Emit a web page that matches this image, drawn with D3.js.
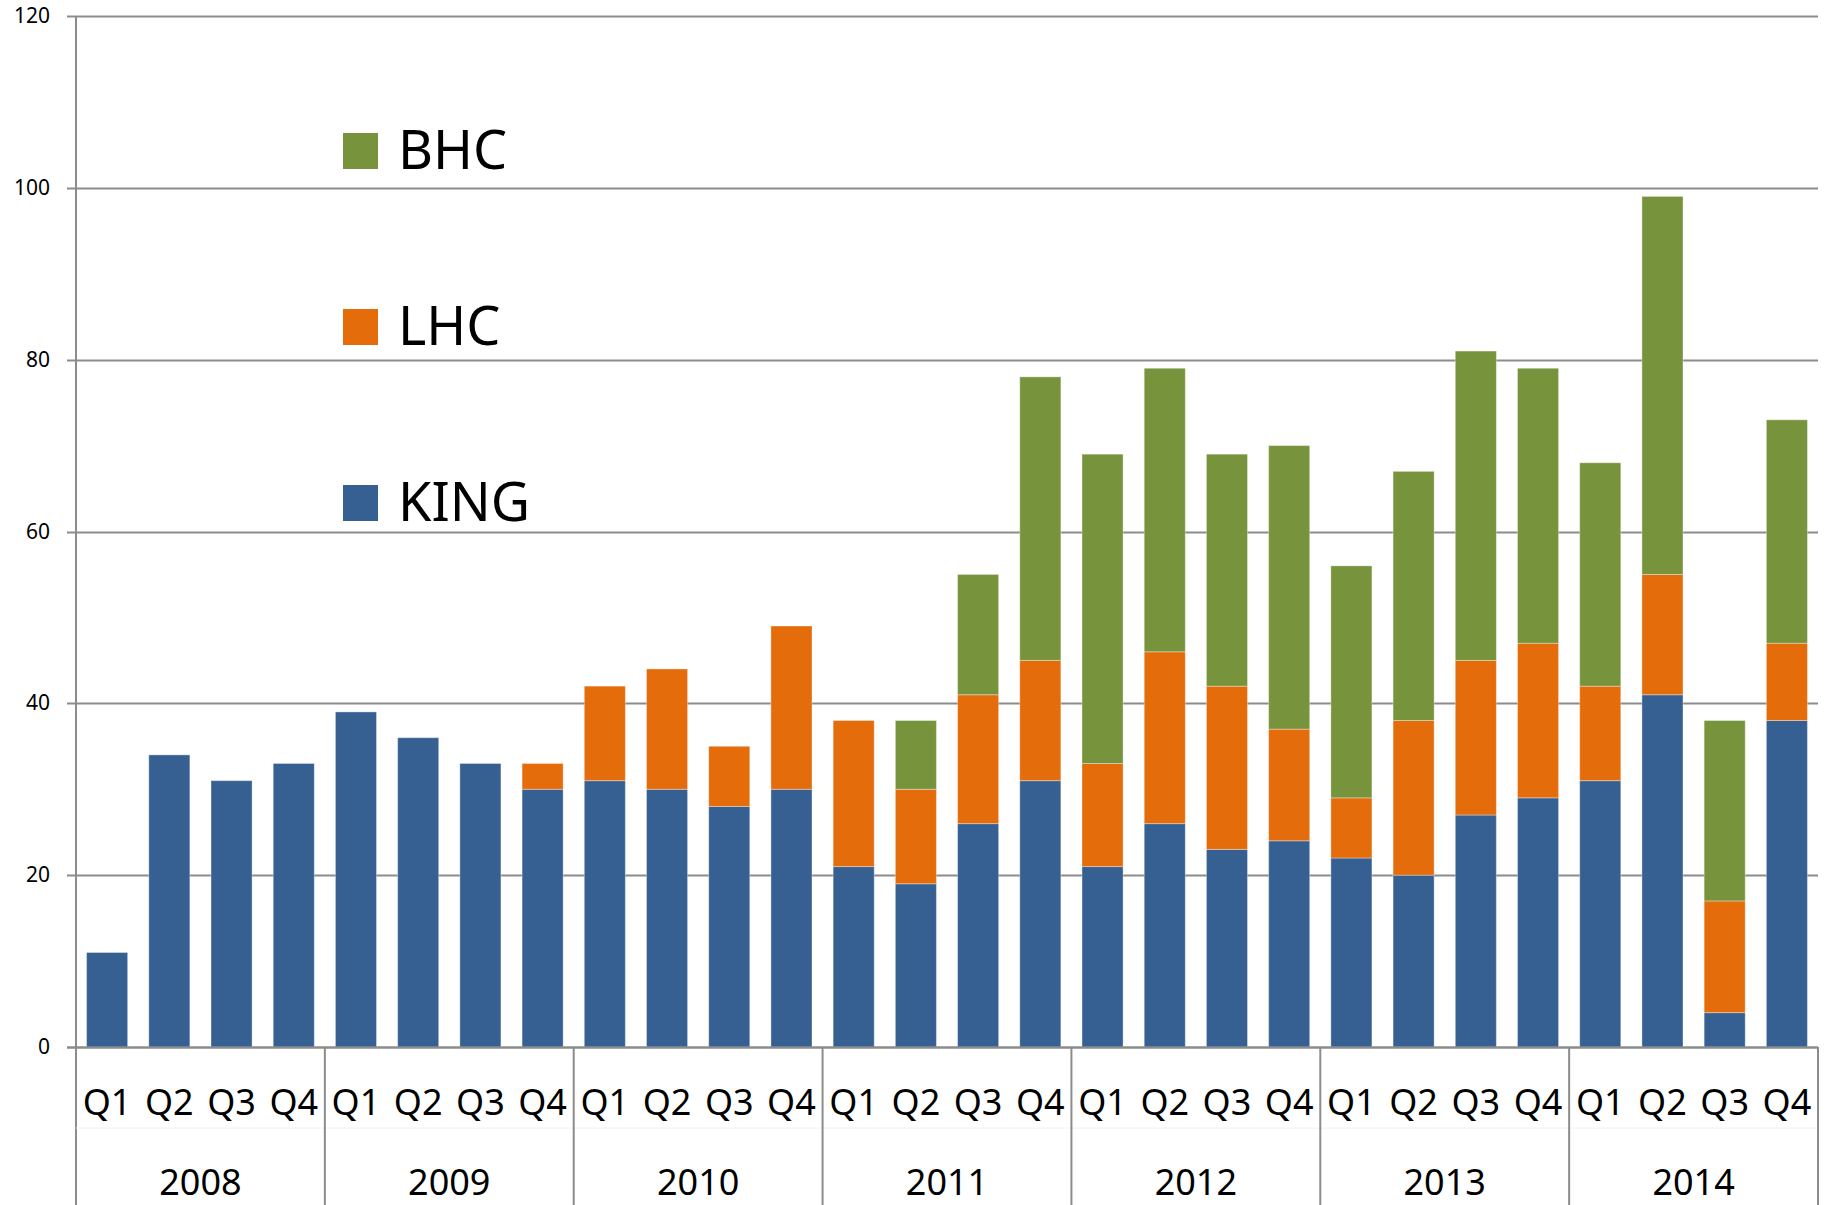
<!DOCTYPE html>
<html lang="en">
<head>
<meta charset="UTF-8">
<title>KING / LHC / BHC by quarter</title>
<style>
  body { margin: 0; background: #fff; }
  svg { display: block; font-family: "Noto Sans", "Open Sans", sans-serif; }
</style>
</head>
<body>
<div id="chart"></div>
<script src="https://d3js.org/d3.v7.min.js"></script>
<script>
// data
const years = ["2008", "2009", "2010", "2011", "2012", "2013", "2014"];
const quarters = ["Q1", "Q2", "Q3", "Q4"];
const seriesNames = ["KING", "LHC", "BHC"];
const king = [11, 34, 31, 33, 39, 36, 33, 30, 31, 30, 28, 30, 21, 19, 26, 31,
              21, 26, 23, 24, 22, 20, 27, 29, 31, 41, 4, 38];
const lhc  = [0, 0, 0, 0, 0, 0, 0, 3, 11, 14, 7, 19, 17, 11, 15, 14,
              12, 20, 19, 13, 7, 18, 18, 18, 11, 14, 13, 9];
const bhc  = [0, 0, 0, 0, 0, 0, 0, 0, 0, 0, 0, 0, 0, 8, 14, 33,
              36, 33, 27, 33, 27, 29, 36, 32, 26, 44, 21, 26];
const yTicks = [0, 20, 40, 60, 80, 100, 120];
const colors = { KING: "#376092", LHC: "#e46c0a", BHC: "#77933c" };

const W = 1829, H = 1205;
const plotLeft = 76, plotRight = 1818, plotTop = 16, zeroY = 1047;

const rows = [];
years.forEach((y, i) => quarters.forEach((q, j) => {
    const k = i * 4 + j;
    rows.push({ id: y + q, year: y, q: q, KING: king[k], LHC: lhc[k], BHC: bhc[k] });
}));

const svg = d3.select("#chart").append("svg").attr("width", W).attr("height", H);

const x = d3.scaleBand().domain(rows.map(d => d.id)).range([plotLeft, plotRight]).paddingInner(0.34).paddingOuter(0.17);
const y = d3.scaleLinear().domain([0, 120]).range([zeroY, plotTop]);

// gridlines + ticks
svg.append("g").selectAll("line").data(yTicks).join("line")
    .attr("x1", 67).attr("x2", plotRight)
    .attr("y1", d => Math.round(y(d)) + 0.5).attr("y2", d => Math.round(y(d)) + 0.5)
    .attr("stroke", "#8c8c8c").attr("stroke-width", 2);

svg.append("g").selectAll("text").data(yTicks).join("text")
    .attr("x", 50).attr("y", d => y(d) + 7)
    .attr("text-anchor", "end").attr("font-size", 21).attr("fill", "#000")
    .text(d => d);

// stacked bars
const stack = d3.stack().keys(seriesNames)(rows);
svg.append("g").selectAll("g").data(stack).join("g")
    .attr("fill", d => colors[d.key])
    .selectAll("rect").data(d => d.filter(p => p[1] > p[0])).join("rect")
    .attr("x", d => x(d.data.id))
    .attr("width", x.bandwidth())
    .attr("y", d => y(d[1]))
    .attr("height", d => y(d[0]) - y(d[1]))
    .attr("stroke", "rgba(255,255,255,0.35)").attr("stroke-width", 1);

// axes lines
svg.append("line").attr("x1", plotLeft).attr("x2", plotLeft).attr("y1", plotTop).attr("y2", H)
    .attr("stroke", "#8c8c8c").attr("stroke-width", 2);
svg.append("line").attr("x1", 67).attr("x2", plotRight).attr("y1", zeroY + 0.5).attr("y2", zeroY + 0.5)
    .attr("stroke", "#8c8c8c").attr("stroke-width", 2);
svg.append("line").attr("x1", plotLeft).attr("x2", plotRight).attr("y1", 1128).attr("y2", 1128)
    .attr("stroke", "#f0f0f0").attr("stroke-width", 1);

// year separators
const step = x.step();
const yearEdges = years.map((yr, i) => i === 0 ? plotLeft : x(yr + "Q1") - step * x.paddingInner() / 2).concat([plotRight]);
svg.append("g").selectAll("line").data(yearEdges.slice(1)).join("line")
    .attr("x1", d => d).attr("x2", d => d).attr("y1", zeroY).attr("y2", H)
    .attr("stroke", "#8c8c8c").attr("stroke-width", 2);

// quarter labels
svg.append("g").selectAll("text").data(rows).join("text")
    .attr("x", d => x(d.id) + x.bandwidth() / 2).attr("y", 1115)
    .attr("text-anchor", "middle").attr("font-size", 36).attr("fill", "#000")
    .text(d => d.q);

// year labels
svg.append("g").selectAll("text").data(years).join("text")
    .attr("x", (d, i) => (yearEdges[i] + yearEdges[i + 1]) / 2).attr("y", 1195)
    .attr("text-anchor", "middle").attr("font-size", 36).attr("fill", "#000")
    .text(d => d);

// legend
const legendNames = ["BHC", "LHC", "KING"];
const lg = svg.append("g").selectAll("g").data(legendNames).join("g")
    .attr("transform", (d, i) => `translate(343, ${133 + i * 176})`);
lg.append("rect").attr("width", 35).attr("height", 36).attr("fill", d => colors[d]);
lg.append("text").attr("x", 55).attr("y", 36).attr("font-size", 54).attr("fill", "#000").text(d => d);
</script>
</body>
</html>
